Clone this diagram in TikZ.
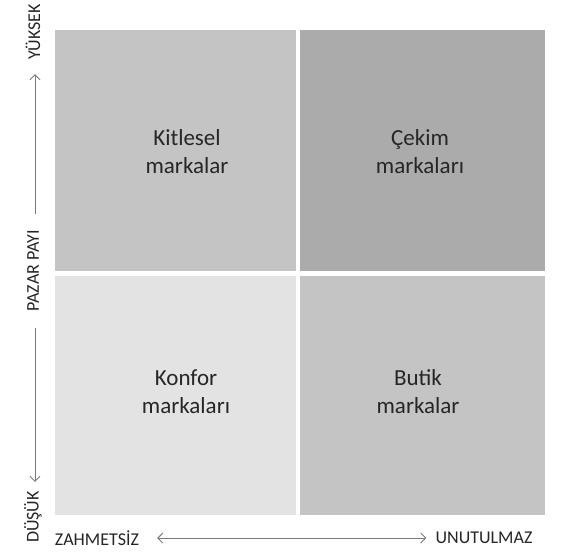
\documentclass[tikz,border=0pt]{standalone}
\usepackage{fontspec}
\setmainfont{Carlito}
\usetikzlibrary{arrows.meta}
\definecolor{qlight}{HTML}{E3E3E3}
\definecolor{qmid}{HTML}{C4C4C4}
\definecolor{qdark}{HTML}{ABABAB}
\definecolor{axisgray}{HTML}{7A7A7A}
\definecolor{txt}{HTML}{262626}
\begin{document}
\begin{tikzpicture}[x=1pt, y=-1pt,
    quad/.style={align=center, text=txt, font=\fontsize{23}{28}\selectfont},
    axislabel/.style={text=txt, font=\fontsize{18}{20}\selectfont, inner sep=2pt},
    axisarrow/.style={draw=axisgray, line width=0.9pt, arrows={-Straight Barb[length=5pt, width=10pt]}}]
    \useasboundingbox[fill=white] (0, 0) rectangle (585, 551);
    \fill[qmid] (55, 30) rectangle (296, 271);
    \fill[qdark] (300, 30) rectangle (545, 271);
    \fill[qlight] (55, 276) rectangle (296, 515);
    \fill[qmid] (300, 276) rectangle (545, 515);

    \node[quad] (kitlesel) at (187, 152) {Kitlesel\\markalar};
    \node[quad] (cekim) at (420, 152) {Çekim\\markaları};
    \node[quad] (konfor) at (186, 392) {Konfor\\markaları};
    \node[quad] (butik) at (418, 392) {Butik\\markalar};

    \node[axislabel, rotate=90] (yuksek) at (33, 32) {YÜKSEK};
    \node[axislabel, rotate=90] (pazar) at (33, 271) {PAZAR PAYI};
    \node[axislabel, rotate=90] (dusuk) at (33, 517) {DÜŞÜK};
    \node[axislabel] (zahmet) at (97, 538) {ZAHMETSİZ};
    \node[axislabel] (unutul) at (484, 538) {UNUTULMAZ};

    \draw[axisarrow, shorten <=14pt, shorten >=12pt] ([xshift=2pt]pazar.east) -- ([xshift=2pt]yuksek.west);
    \draw[axisarrow, shorten <=14pt, shorten >=7pt] ([xshift=2pt]pazar.west) -- ([xshift=2pt]dusuk.east);
    \draw[axisarrow, {Straight Barb[length=5pt, width=10pt]}-{Straight Barb[length=5pt, width=10pt]}, shorten <=16pt, shorten >=7pt] (zahmet.east) -- (unutul.west);
\end{tikzpicture}
\end{document}
